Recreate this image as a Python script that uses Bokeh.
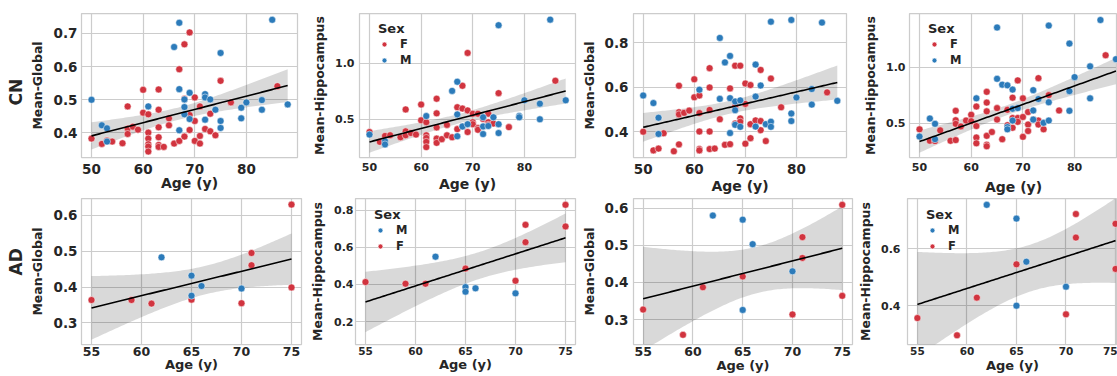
import numpy as np
from bokeh.plotting import figure
from bokeh.layouts import row, column
from bokeh.models import Range1d, FixedTicker, PrintfTickFormatter, Title
from bokeh.embed import file_html
from bokeh.resources import INLINE

# ---------------- data ----------------
# CN, Mean-Global (panel 1)
cn_g_age_f = [50, 52, 53, 54, 56, 57, 57, 57, 58, 59, 60, 60, 61, 61, 61, 61, 61, 61, 63, 63, 63, 63, 63, 63, 64, 65, 65,
              66, 67, 67, 68, 68, 68, 69, 69, 69, 70, 70, 70, 71, 71, 71, 72, 73, 73, 74, 75, 77, 86]
cn_g_val_f = [.383, .367, .377, .374, .369, .480, .413, .397, .419, .410, .530, .461, .456, .401, .383, .366, .359, .344,
              .531, .470, .417, .387, .364, .358, .358, .444, .423, .368, .592, .376, .667, .503, .389, .703, .454, .409,
              .507, .436, .376, .480, .391, .368, .412, .458, .405, .393, .557, .492, .541]
cn_g_age_m = [50, 52, 53, 53, 61, 66, 67, 67, 67, 68, 68, 68, 69, 69, 72, 72, 72, 73, 74, 75, 75, 75, 79, 79, 80, 83, 83,
              85, 88]
cn_g_val_m = [.500, .423, .414, .374, .480, .659, .732, .532, .408, .501, .478, .456, .521, .442, .517, .507, .440, .501,
              .470, .641, .436, .415, .476, .444, .492, .499, .470, .741, .486]

# CN, Mean-Hippocampus (panel 2)
cn_h_age_f = [50, 52, 53, 54, 56, 57, 57, 57, 58, 59, 60, 60, 61, 61, 61, 61, 61, 63, 63, 63, 63, 63, 64, 65, 65, 66, 67,
              67, 68, 68, 68, 69, 69, 69, 70, 70, 70, 71, 71, 71, 72, 73, 73, 73, 74, 75, 77, 86]
cn_h_val_f = [.386, .298, .351, .357, .339, .588, .392, .357, .377, .363, .632, .491, .474, .357, .333, .298, .251, .684,
              .553, .427, .327, .289, .322, .450, .357, .339, .608, .412, .800, .596, .436, 1.094, .579, .386, .550, .474,
              .456, .550, .421, .406, .503, .550, .474, .450, .462, .734, .430, .845]
cn_h_age_m = [50, 53, 53, 61, 66, 67, 67, 67, 68, 69, 72, 72, 72, 73, 74, 75, 75, 75, 79, 79, 80, 83, 83, 85, 88]
cn_h_val_m = [.363, .304, .275, .529, .754, .836, .544, .348, .436, .456, .518, .436, .368, .440, .518, 1.342, .456, .377,
              .529, .518, .670, .640, .500, 1.392, .670]

# CN, Mean-Global (panel 3)
cn_g2_age_f = [50, 52, 53, 54, 56, 57, 57, 57, 57, 58, 59, 60, 60, 61, 61, 61, 61, 61, 63, 63, 63, 63, 63, 64, 65, 66,
               67, 67, 68, 68, 68, 69, 69, 69, 70, 70, 70, 71, 71, 71, 72, 73, 73, 73, 74, 75, 77, 86]
cn_g2_val_f = [.400, .316, .324, .393, .312, .607, .488, .478, .343, .485, .495, .636, .555, .563, .484, .401, .322, .316,
               .686, .599, .498, .401, .322, .324, .456, .341, .595, .344, .697, .514, .437, .697, .460, .445, .617, .525,
               .346, .610, .434, .371, .451, .678, .448, .407, .358, .639, .510, .577]
cn_g2_age_m = [50, 52, 53, 53, 61, 65, 65, 66, 67, 67, 67, 68, 68, 68, 69, 69, 72, 72, 72, 73, 74, 75, 75, 75, 79, 79,
               79, 80, 83, 83, 85, 88]
cn_g2_val_m = [.563, .529, .463, .390, .589, .822, .548, .712, .741, .551, .394, .536, .497, .431, .541, .422, .702, .558,
               .423, .608, .434, .895, .445, .422, .903, .482, .448, .554, .592, .522, .891, .539]

# CN, Mean-Hippocampus (panel 4)
cn_h2_age_f = [50, 52, 53, 54, 56, 57, 57, 57, 57, 58, 59, 60, 60, 61, 61, 61, 61, 63, 63, 63, 63, 63, 63, 64, 65, 65,
               66, 67, 67, 68, 68, 68, 69, 69, 69, 70, 70, 70, 71, 71, 71, 72, 73, 73, 73, 74, 75, 77, 86]
cn_h2_val_f = [.448, .346, .343, .439, .346, .613, .529, .497, .352, .474, .526, .578, .520, .651, .477, .375, .323, .782,
               .686, .608, .390, .311, .297, .424, .637, .535, .360, .622, .485, .730, .549, .462, .884, .549, .515, .724,
               .558, .381, .602, .491, .433, .535, .904, .526, .491, .448, .753, .616, 1.108]
cn_h2_age_m = [50, 52, 53, 53, 61, 65, 65, 66, 67, 67, 67, 68, 68, 68, 69, 72, 72, 72, 73, 74, 75, 75, 75, 79, 79, 79,
               80, 83, 83, 85, 88]
cn_h2_val_m = [.384, .544, .497, .360, .724, 1.355, .898, .846, .840, .468, .448, .802, .631, .526, .637, .797, .616,
               .535, .718, .506, 1.372, .689, .526, 1.212, .788, .613, .913, 1.009, .724, 1.422, 1.073]

# AD (panels 5-8)
ad_age_f = [55, 59, 61, 65, 70, 71, 71, 75, 75]
ad_age_m = [62, 65, 65, 66, 70]
ad_g_val_f = [.364, .364, .354, .365, .355, .495, .461, .630, .399]
ad_g_val_m = [.483, .432, .376, .403, .396]
ad_h_val_f = [.413, .404, .404, .486, .420, .722, .628, .830, .713]
ad_h_val_m = [.550, .386, .361, .379, .352]
ad_g2_val_f = [.327, .259, .387, .416, .314, .522, .466, .609, .364]
ad_g2_val_m = [.580, .569, .326, .503, .430]
ad_h2_val_f = [.358, .298, .429, .545, .371, .720, .638, .686, .529]
ad_h2_val_m = [.752, .704, .401, .554, .467]

cn_xticks = [50, 60, 70, 80]
ad_xticks = [55, 60, 65, 70, 75]

# ---------------- style ----------------
FONT = "DejaVu Sans"
TXT = "#262626"
RED = "#d1343f"
BLUE = "#2c7bba"
GRID = "#cccccc"


def t975(df):
    z = 1.959963984540054
    g1 = (z**3 + z) / 4
    g2 = (5 * z**5 + 16 * z**3 + 3 * z) / 96
    g3 = (3 * z**7 + 19 * z**5 + 17 * z**3 - 15 * z) / 384
    return z + g1 / df + g2 / df**2 + g3 / df**3


def fit(x, y):
    x = np.asarray(x, float)
    y = np.asarray(y, float)
    xs = np.linspace(x.min(), x.max(), 100)
    b, a = np.polyfit(x, y, 1)
    n = len(x)
    s = np.sqrt(np.sum((y - (a + b * x)) ** 2) / (n - 2))
    sxx = np.sum((x - x.mean()) ** 2)
    se = s * np.sqrt(1.0 / n + (xs - x.mean()) ** 2 / sxx)
    yh = a + b * xs
    t = t975(n - 2)
    return xs, yh, yh - t * se, yh + t * se


def panel(af, vf, am, vm, xr, yr, xticks, yticks, ylabel, xlab_standoff, xlab_fs, W, H, bl, br, bt, bb,
          tick_fs, ylab_standoff, tick_standoff, xtick_standoff=4, xtick_fs=None, legend=None,
          rowlabel=None, rl_offset=0):
    p = figure(width=W, height=H, x_range=Range1d(*xr), y_range=Range1d(*yr),
               output_backend="svg", toolbar_location=None,
               min_border_left=bl, min_border_right=br, min_border_top=bt, min_border_bottom=bb)
    p.background_fill_color = "white"
    p.border_fill_color = "white"
    p.outline_line_color = GRID
    p.outline_line_width = 1.25
    fh = H - bt - bb

    xs, yh, lo, hi = fit(list(af) + list(am), list(vf) + list(vm))
    p.varea(x=xs, y1=lo, y2=hi, fill_color="black", fill_alpha=0.15)

    order = [("F", af, vf, RED), ("M", am, vm, BLUE)]
    if legend == "MF":
        order = order[::-1]
    for lab, ax_, vv, col in order:
        kw = dict(legend_label=lab) if legend else {}
        p.scatter(ax_, vv, size=7, fill_color=col, line_color="white", line_width=0.5, **kw)

    p.line(xs, yh, line_color="black", line_width=1.6)

    p.xaxis.ticker = FixedTicker(ticks=xticks)
    p.yaxis.ticker = FixedTicker(ticks=yticks)
    p.xaxis.formatter = PrintfTickFormatter(format="%d")
    p.yaxis.formatter = PrintfTickFormatter(format="%.1f")
    for ax in (p.xaxis[0], p.yaxis[0]):
        ax.axis_line_color = None
        ax.major_tick_line_color = None
        ax.minor_tick_line_color = None
        ax.major_tick_out = 0
        ax.major_tick_in = 0
        ax.major_label_text_font = FONT
        ax.major_label_text_font_style = "bold"
        ax.major_label_text_color = TXT
        ax.major_label_text_font_size = tick_fs
        ax.axis_label_text_font = FONT
        ax.axis_label_text_font_style = "bold"
        ax.axis_label_text_color = TXT
    if xtick_fs:
        p.xaxis.major_label_text_font_size = xtick_fs
    p.yaxis.major_label_standoff = tick_standoff
    p.xaxis.major_label_standoff = xtick_standoff
    p.yaxis.axis_label = ylabel
    p.yaxis.axis_label_text_font_size = "12.5px"
    p.yaxis.axis_label_standoff = ylab_standoff
    p.xaxis.axis_label = "Age (y)"
    p.xaxis.axis_label_text_font_size = xlab_fs
    p.xaxis.axis_label_standoff = xlab_standoff
    p.xgrid.grid_line_color = GRID
    p.ygrid.grid_line_color = GRID
    p.xgrid.grid_line_width = 1.2
    p.ygrid.grid_line_width = 1.2

    if legend:
        lg = p.legend[0]
        lg.title = "Sex"
        lg.title_text_font = FONT
        lg.title_text_font_style = "bold"
        lg.title_text_font_size = "13px"
        lg.title_text_color = TXT
        lg.title_standoff = 1
        lg.label_text_font = FONT
        lg.label_text_font_style = "bold"
        lg.label_text_font_size = "11.5px"
        lg.label_text_color = TXT
        lg.label_height = 14
        lg.label_width = 10
        lg.glyph_width = 12
        lg.glyph_height = 14
        lg.label_standoff = 10
        lg.spacing = 2
        lg.padding = 0
        lg.margin = 0
        lg.border_line_color = None
        lg.background_fill_alpha = 0
        lg.location = (19, fh - 57)

    if rowlabel:
        p.add_layout(Title(text=rowlabel, align="left", text_font=FONT, text_font_size="17px",
                           text_font_style="bold", text_color=TXT, standoff=2, offset=rl_offset), "left")
    return p


H1, H2 = 197, 179
f1 = panel(cn_g_age_f, cn_g_val_f, cn_g_age_m, cn_g_val_m, (48.06, 89.9), (0.326, 0.760), cn_xticks,
           [0.4, 0.5, 0.6, 0.7], "Mean-Global", -2, "14px", 300, H1, 81, 3, 13, 37, "13.5px", 6, 4,
           xtick_standoff=6, rowlabel="CN", rl_offset=52)
f2 = panel(cn_h_age_f, cn_h_val_f, cn_h_age_m, cn_h_val_m, (48.06, 89.9), (0.158, 1.447), cn_xticks,
           [0.5, 1.0], "Mean-Hippocampus", 2, "14px", 278, H1, 59, 3, 13, 37, "11px", 5, 5,
           xtick_standoff=5, legend="FM")
f3 = panel(cn_g2_age_f, cn_g2_val_f, cn_g2_age_m, cn_g2_val_m, (48.1, 89.8), (0.284, 0.932), cn_xticks,
           [0.4, 0.6, 0.8], "Mean-Global", 1, "14px", 272, H1, 54, 4, 10, 40, "13.5px", 5, 5,
           xtick_standoff=6)
f4 = panel(cn_h2_age_f, cn_h2_val_f, cn_h2_age_m, cn_h2_val_m, (48.06, 88.3), (0.197, 1.48), cn_xticks,
           [0.5, 1.0], "Mean-Hippocampus", 5, "14px", 267, H1, 59, 0, 10, 40, "11px", 5, 4,
           xtick_standoff=5, legend="FM")

f5 = panel(ad_age_f, ad_g_val_f, ad_age_m, ad_g_val_m, (54, 76), (0.24, 0.647), ad_xticks,
           [0.3, 0.4, 0.5, 0.6], "Mean-Global", -2, "13px", 304, H2, 81, 3, 1, 31, "13.5px", 6, 4,
           xtick_standoff=2, xtick_fs="12.5px", rowlabel="AD", rl_offset=69)
f6 = panel(ad_age_f, ad_h_val_f, ad_age_m, ad_h_val_m, (54, 76), (0.076, 0.864), ad_xticks,
           [0.2, 0.4, 0.6, 0.8], "Mean-Hippocampus", -1, "13px", 274, H2, 51, 3, 1, 30, "11px", 6, 2,
           xtick_standoff=2, xtick_fs="10.5px", legend="MF")
f7 = panel(ad_age_f, ad_g2_val_f, ad_age_m, ad_g2_val_m, (54.03, 76.03), (0.233, 0.626), ad_xticks,
           [0.3, 0.4, 0.5, 0.6], "Mean-Global", -1, "13px", 277, H2, 54, 3, 0, 32, "13.5px", 5, 5,
           xtick_standoff=2, xtick_fs="12.5px")
f8 = panel(ad_age_f, ad_h2_val_f, ad_age_m, ad_h2_val_m, (54, 75.2), (0.266, 0.774), ad_xticks,
           [0.4, 0.6], "Mean-Hippocampus", 0, "13px", 262, H2, 50, 0, 0, 31, "11px", 5, 7,
           xtick_standoff=2, xtick_fs="10.5px", legend="MF")

layout = column(row(f1, f2, f3, f4, spacing=0), row(f5, f6, f7, f8, spacing=0), spacing=0)
open("out.html", "w").write(file_html(layout, INLINE))
